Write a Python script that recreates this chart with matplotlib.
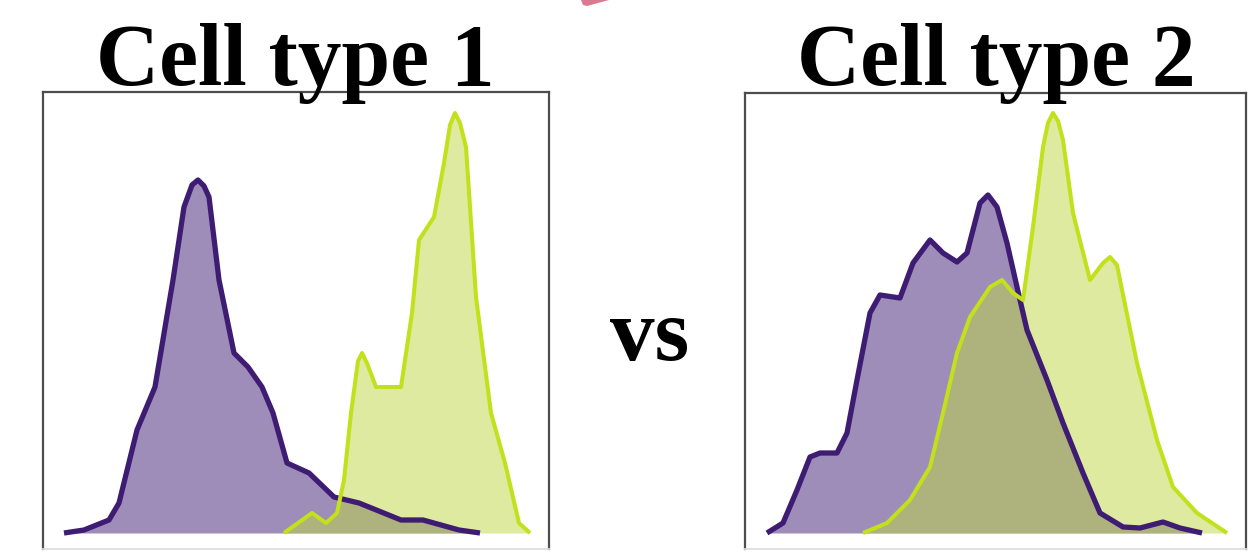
import matplotlib.pyplot as plt
from matplotlib.patches import Polygon

# channel position / event count
ct1_purple_x = [21, 41, 66, 76, 94, 112, 130, 141, 149, 155, 161, 166, 176, 191, 205, 219, 230, 244, 266, 291, 316, 358, 380, 416, 437]
ct1_purple_y = [0, 3, 13, 30, 103, 146, 253, 326, 348, 353, 347, 336, 253, 180, 166, 146, 120, 70, 60, 36, 30, 13, 13, 3, 0]
ct1_green_x = [241, 269, 283, 294, 301, 308, 315, 319, 324, 333, 358, 369, 376, 391, 401, 407, 412, 417, 423, 433, 448, 462, 476, 487]
ct1_green_y = [0, 20, 10, 20, 53, 120, 172, 180, 170, 146, 146, 220, 293, 316, 370, 408, 420, 410, 386, 236, 120, 70, 10, 0]

ct2_purple_x = [22, 38, 52, 65, 75, 92, 102, 112, 125, 135, 155, 168, 185, 198, 212, 222, 235, 243, 252, 262,
                272, 282, 302, 318, 338, 355, 378, 395, 418, 435, 457]
ct2_purple_y = [0, 10, 43, 76, 80, 80, 100, 153, 220, 238, 235, 270, 293, 280, 271, 280, 330, 338, 326, 290,
                246, 203, 153, 110, 60, 20, 6, 5, 11, 5, 0]
ct2_green_x = [118, 142, 165, 185, 198, 212, 225, 245, 257, 268, 278, 288, 298, 303, 308, 313, 318, 328, 345, 358, 365, 372, 375, 392,
               412, 428, 452, 482]
ct2_green_y = [0, 10, 33, 66, 120, 180, 216, 246, 253, 240, 233, 306, 386, 410, 420, 412, 393, 320, 253, 270, 276, 268, 253, 170,
               93, 46, 20, 0]

titles = ["Cell type 1", "Cell type 2"]

PURPLE = "#3f1c73"
GREEN = "#c2e01c"
GREEN_FILL = "#bfd741"

W, H = 1259, 552
fig = plt.figure(figsize=(W / 100, H / 100), dpi=100)

def draw_panel(rect, xmax, ytop, px, py, gx, gy):
    ax = fig.add_axes(rect)
    ax.fill_between(px, py, 0, color=PURPLE, alpha=0.5, lw=0)
    ax.fill_between(gx, gy, 0, color=GREEN_FILL, alpha=0.5, lw=0)
    ax.plot(px, py, color=PURPLE, lw=3.8, solid_joinstyle="round", solid_capstyle="butt")
    ax.plot(gx, gy, color=GREEN, lw=2.9, solid_joinstyle="round", solid_capstyle="butt")
    ax.set_xlim(0, xmax)
    ax.set_ylim(-16, ytop)
    ax.set_xticks([])
    ax.set_yticks([])
    for s in ["left", "top", "right"]:
        ax.spines[s].set_color("#4d4d4d")
        ax.spines[s].set_linewidth(1.6)
    ax.spines["bottom"].set_color("#dddddd")
    ax.spines["bottom"].set_linewidth(1.3)
    return ax

# panel boxes in pixels: left, top, right, bottom
draw_panel([43 / W, 3 / H, 506 / W, 457 / H], 506, 441, ct1_purple_x, ct1_purple_y, ct1_green_x, ct1_green_y)
draw_panel([745 / W, 3 / H, 501 / W, 456 / H], 501, 440, ct2_purple_x, ct2_purple_y, ct2_green_x, ct2_green_y)

font = dict(family="Liberation Serif", weight="bold", color="black")
fig.text(295 / W, 1 - 85 / H, titles[0], ha="center", va="baseline", fontsize=63, **font)
fig.text(996 / W, 1 - 85 / H, titles[1], ha="center", va="baseline", fontsize=63, **font)
fig.text(650 / W, 1 - 360 / H, "vs", ha="center", va="baseline", fontsize=64, **font)

# bit of a pink arrow poking in at the top
pink = [(581 / W, 1.0), (609 / W, 1.0), (587 / W, 1 - 6 / H), (583 / W, 1 - 5 / H)]
fig.patches.append(Polygon(pink, closed=True, transform=fig.transFigure, color="#d97a92", lw=0))

fig.savefig("out.png", dpi=100)
